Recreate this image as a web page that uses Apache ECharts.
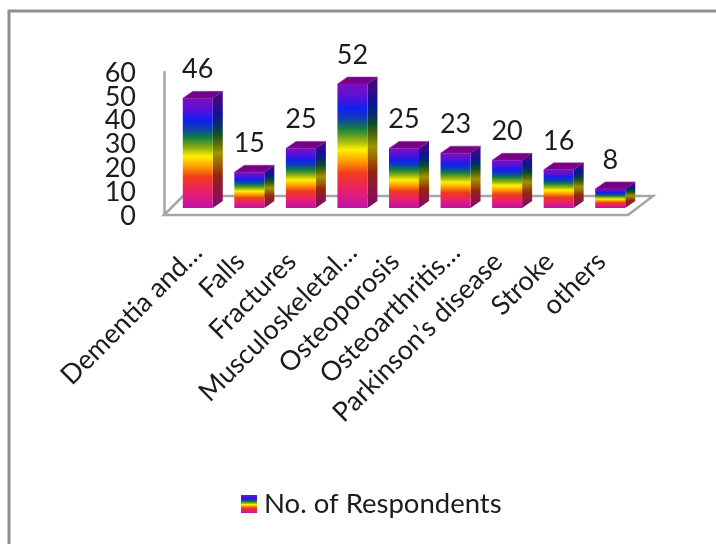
<!DOCTYPE html>
<html><head><meta charset="utf-8">
<style>html,body{margin:0;padding:0;background:#fff}#c{width:716px;height:544px}</style>
<script src="https://cdn.jsdelivr.net/npm/echarts@6/dist/echarts.min.js"></script>
</head><body><div id="c"></div>
<script>
const categories=["Dementia and…","Falls","Fractures","Musculoskeletal…","Osteoporosis","Osteoarthritis…","Parkinson’s disease","Stroke","others"];
const respondents=[46,15,25,52,25,23,20,16,8];
const yTicks=[0,10,20,30,40,50,60];
const seriesName="No. of Respondents";
const FONT="Lato";
const TEXT='#1c1c1c';
const rainbow=(k)=>{const sh=c=>{const n=parseInt(c.slice(1),16);const f=v=>Math.round(v*k);return `rgb(${f(n>>16)},${f((n>>8)&255)},${f(n&255)})`;};
 return {type:'linear',x:0,y:0,x2:0,y2:1,colorStops:[
 [0,'#7a0fc0'],[.1,'#5a10d8'],[.2,'#1020f0'],[.28,'#1040b0'],[.36,'#148040'],[.45,'#90b010'],[.53,'#fff000'],[.62,'#ffa000'],[.72,'#f03a1c'],[.86,'#e81f70'],[1,'#c010a8']
 ].map(s=>({offset:s[0],color:sh(s[1])}))};};
const DX=10,DY=7,BASE=7,W=30;
const chart=echarts.init(document.getElementById('c'),null,{renderer:'canvas'});
chart.setOption({
 animation:false,
 graphic:[{type:'rect',silent:true,z:-1,shape:{x:9,y:11,width:720,height:540},style:{fill:'#fff',stroke:'#8f8f8f',lineWidth:3}}],
 legend:{show:true,left:236,top:485,itemWidth:16,itemHeight:18,itemGap:4,icon:'rect',data:[{name:seriesName,itemStyle:{color:rainbow(1)}}],
   textStyle:{fontFamily:FONT,fontSize:27.5,color:TEXT,padding:[0,0,0,2]}},
 grid:{left:172,top:72,width:464,height:143},
 xAxis:{type:'category',
   data:categories.map(c=>({value:c,textStyle:{padding:[0,c.endsWith('…')?0:13,0,0]}})),
   axisLine:{show:false},axisTick:{show:false},
   axisLabel:{interval:0,rotate:45,margin:33,fontFamily:FONT,fontSize:27,color:TEXT,hideOverlap:false}},
 yAxis:{type:'value',min:0,max:60,interval:10,offset:8,splitLine:{show:false},axisTick:{show:false},
   axisLine:{show:true,lineStyle:{color:'#a6a6a6',width:2.5}},
   axisLabel:{show:false}},
 series:[
 {type:'custom',name:'floor',silent:true,z:1,coordinateSystem:'cartesian2d',data:[[0,0]],legendHoverLink:false,
  renderItem(p,api){const o=api.coord([0,0]);const cs=p.coordSys;const x0=cs.x-8,x1=cs.x+cs.width-8,y=o[1];
   return {type:'polygon',shape:{points:[[x0,y],[x1,y],[x1+25,y-19],[x0+19,y-19]]},style:{fill:'#fff',stroke:'#a6a6a6',lineWidth:2.5}};}},
 {type:'custom',name:'yTickLabels',silent:true,z:3,coordinateSystem:'cartesian2d',data:yTicks.map(v=>[0,v]),legendHoverLink:false,clip:false,
  renderItem(p,api){const v=api.value(1),c=api.coord([0,v]);
   return {type:'text',style:{text:String(v),x:p.coordSys.x-36,y:c[1]+1,align:'right',verticalAlign:'middle',font:'27px '+FONT,fill:TEXT}};}},
 {type:'custom',name:seriesName,z:2,coordinateSystem:'cartesian2d',itemStyle:{color:rainbow(1)},
  data:respondents.map((v,i)=>[i,v]),encode:{x:0,y:1},
  renderItem(p,api){
   const v=api.value(1),c=api.coord([api.value(0),v]),o=api.coord([api.value(0),0]);
   const l=c[0]-W/2,r=c[0]+W/2,t=c[1]-BASE,b=o[1]-BASE;
   return {type:'group',children:[
    {type:'polygon',shape:{points:[[l,t],[r,t],[r+DX,t-DY],[l+DX,t-DY]]},style:{fill:'#780088',stroke:'#9a2aa0',lineWidth:.6}},
    {type:'polygon',shape:{points:[[r,t],[r+DX,t-DY],[r+DX,b-DY],[r,b]]},style:{fill:rainbow(.62)}},
    {type:'rect',shape:{x:l,y:t,width:W,height:b-t},style:{fill:rainbow(1)}},
    {type:'text',style:{text:String(v),x:c[0],y:t-DY-22,align:'center',verticalAlign:'middle',font:'27px '+FONT,fill:TEXT}}
   ]};
  }}
 ]
});
</script></body></html>
